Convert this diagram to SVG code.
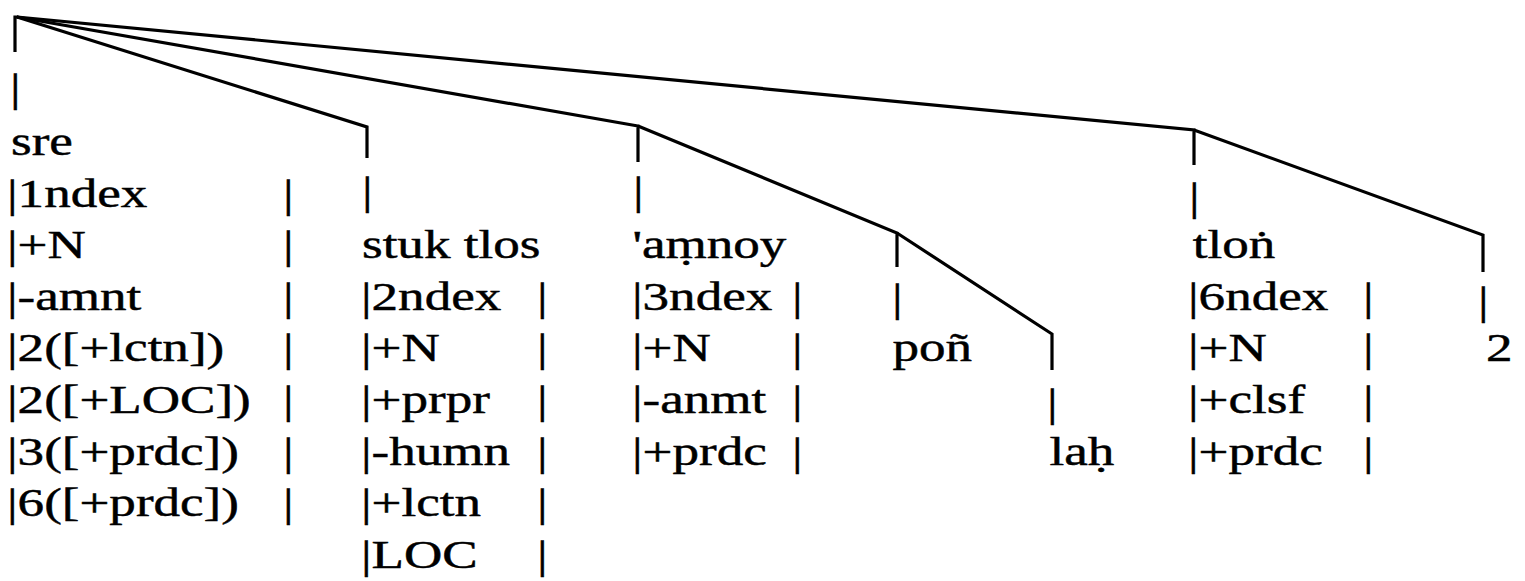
<svg xmlns="http://www.w3.org/2000/svg" width="1525" height="581" viewBox="0 0 1525 581">
<style>
.t{font-family:"Liberation Serif","DejaVu Serif","Times New Roman",serif;font-size:39px;fill:#000;stroke:#000;stroke-width:0.45px}
.c{fill:none;stroke:#000;stroke-width:3.2;stroke-linejoin:miter;stroke-linecap:butt}
</style>
<rect width="1525" height="581" fill="#fff"/>
<g id="connectors" class="c">
<path d="M15,52 V17 H18"/>
<path d="M17,17 L367,127 V158"/>
<path d="M17,17 L638,126 V162"/>
<path d="M638,126 L897,233 V267"/>
<path d="M897,233 L1052,334 V370"/>
<path d="M17,17 L1194,130 V165"/>
<path d="M1194,130 L1483,235 V272"/>
</g>
<g class="t" transform="scale(1.36 1)">
<g id="node-sre">
<text x="7.35" y="101">|</text>
<text x="8.09" y="155">sre</text>
<text x="5.15" y="206.6">|1ndex</text>
<text x="5.15" y="258.2">|+N</text>
<text x="5.15" y="309.8">|-amnt</text>
<text x="5.15" y="361.4">|2([+lctn])</text>
<text x="5.15" y="413">|2([+LOC])</text>
<text x="5.15" y="464.6">|3([+prdc])</text>
<text x="5.15" y="516.2">|6([+prdc])</text>
<text x="208.09" y="206.6">|</text>
<text x="208.09" y="258.2">|</text>
<text x="208.09" y="309.8">|</text>
<text x="208.09" y="361.4">|</text>
<text x="208.09" y="413">|</text>
<text x="208.09" y="464.6">|</text>
<text x="208.09" y="516.2">|</text>
</g>
<g id="node-stuk-tlos">
<text x="266.18" y="204">|</text>
<text x="266.18" y="258.2">stuk tlos</text>
<text x="265.44" y="309.8">|2ndex</text>
<text x="265.44" y="361.4">|+N</text>
<text x="265.44" y="413">|+prpr</text>
<text x="265.44" y="464.6">|-humn</text>
<text x="265.44" y="516.2">|+lctn</text>
<text x="265.44" y="567.8">|LOC</text>
<text x="394.85" y="309.8">|</text>
<text x="394.85" y="361.4">|</text>
<text x="394.85" y="413">|</text>
<text x="394.85" y="464.6">|</text>
<text x="394.85" y="516.2">|</text>
<text x="394.85" y="567.8">|</text>
</g>
<g id="node-amnoy">
<text x="465.44" y="204">|</text>
<text x="465.07" y="258.2">'aṃnoy</text>
<text x="464.71" y="309.8">|3ndex</text>
<text x="464.71" y="361.4">|+N</text>
<text x="464.71" y="413">|-anmt</text>
<text x="464.71" y="464.6">|+prdc</text>
<text x="582.35" y="309.8">|</text>
<text x="582.35" y="361.4">|</text>
<text x="582.35" y="413">|</text>
<text x="582.35" y="464.6">|</text>
</g>
<g id="node-pon">
<text x="655.88" y="311">|</text>
<text x="656.25" y="361.4">poñ</text>
</g>
<g id="node-lah">
<text x="769.85" y="416">|</text>
<text x="771.69" y="464.6">laḥ</text>
</g>
<g id="node-tlon">
<text x="874.26" y="210">|</text>
<text x="877.0" y="258.2">tloṅ</text>
<text x="873.53" y="309.8">|6ndex</text>
<text x="873.53" y="361.4">|+N</text>
<text x="873.53" y="413">|+clsf</text>
<text x="873.53" y="464.6">|+prdc</text>
<text x="1002.21" y="309.8">|</text>
<text x="1002.21" y="361.4">|</text>
<text x="1002.21" y="413">|</text>
<text x="1002.21" y="464.6">|</text>
</g>
<g id="node-2">
<text x="1086.76" y="314">|</text>
<text x="1092.65" y="361.4">2</text>
</g>
</g>
</svg>
